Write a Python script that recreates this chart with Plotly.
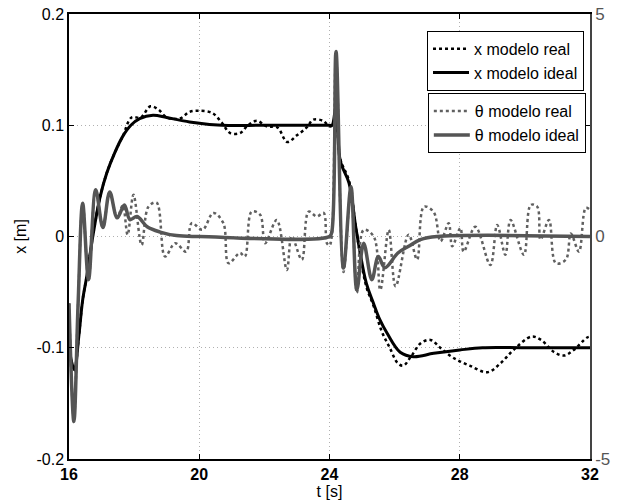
import plotly.graph_objects as go

# x [m] - modelo ideal
t_x_ideal = [16.0, 16.1, 16.17, 16.3, 16.42, 16.55, 16.73, 16.95, 17.16, 17.4, 17.65, 17.9,
             18.17, 18.58, 19.0, 19.7, 20.7, 22.0, 24.0, 24.08, 24.2, 24.33, 24.6, 24.82,
             25.13, 25.35, 25.55, 25.77, 26.17, 26.58, 27.2, 28.0, 28.7, 30.0, 32.0]
x_ideal = [-0.1, -0.115, -0.12, -0.09, -0.057, -0.035, 0.0, 0.035, 0.057, 0.075, 0.09, 0.1,
           0.106, 0.109, 0.107, 0.103, 0.1, 0.1, 0.1, 0.1, 0.117, 0.068, 0.048, 0.006,
           -0.042, -0.06, -0.075, -0.087, -0.104, -0.108, -0.105, -0.102, -0.1, -0.1, -0.1]

# x [m] - modelo real
t_x_real = [16.0, 16.1, 16.17, 16.3, 16.42, 16.55, 16.73, 16.95, 17.16, 17.4, 17.65, 17.92,
            18.2, 18.5, 18.75, 19.0, 19.4, 19.7, 20.0, 20.4, 20.7, 20.95, 21.25, 21.5,
            21.77, 22.07, 22.4, 22.7, 23.0, 23.3, 23.5, 23.8, 24.0, 24.1, 24.2, 24.33,
            24.6, 24.82, 25.13, 25.35, 25.6, 25.85, 26.1, 26.27, 26.5, 26.8, 27.1, 27.4,
            27.8, 28.3, 28.85, 29.25, 29.65, 30.2, 30.5, 30.9, 31.2, 31.5, 31.9, 32.0]
x_real = [-0.1, -0.115, -0.12, -0.09, -0.057, -0.035, 0.0, 0.035, 0.057, 0.075, 0.09, 0.107,
          0.107, 0.117, 0.114, 0.107, 0.106, 0.112, 0.113, 0.111, 0.102, 0.093, 0.093, 0.1,
          0.104, 0.099, 0.098, 0.085, 0.091, 0.098, 0.105, 0.104, 0.099, 0.1, 0.115, 0.07,
          0.05, 0.006, -0.045, -0.062, -0.085, -0.1, -0.114, -0.116, -0.108, -0.096, -0.093, -0.1,
          -0.109, -0.116, -0.122, -0.114, -0.102, -0.09, -0.093, -0.104, -0.107, -0.102, -0.091, -0.09]

# theta - modelo ideal (eje derecho)
t_th_ideal = [16.0, 16.15, 16.28, 16.42, 16.6, 16.82, 17.04, 17.25, 17.48, 17.7, 17.87, 18.09,
              18.4, 18.8, 19.3, 20.0, 24.0, 24.07, 24.2, 24.43, 24.66, 24.84, 25.05, 25.3,
              25.5, 25.7, 26.1, 26.43, 26.79, 27.3, 32.0]
th_ideal = [-1.5, -4.16, -1.5, 0.75, -0.97, 1.05, 0.2, 1.0, 0.42, 0.71, 0.38, 0.45,
            0.22, 0.1, 0.02, 0.0, 0.0, 0.1, 4.16, -0.71, 1.12, -1.2, -0.15, -0.97,
            -0.45, -0.7, -0.37, -0.22, -0.07, 0.0, 0.0]

# theta - modelo real (eje derecho)
t_th_real = [16.0, 16.15, 16.28, 16.42, 16.6, 16.82, 17.04, 17.25, 17.48, 17.65, 17.8, 17.98,
             18.23, 18.44, 18.69, 18.95, 19.26, 19.6, 19.77, 20.1, 20.43, 20.74, 20.9, 21.25,
             21.4, 21.61, 21.87, 22.02, 22.38, 22.69, 22.84, 23.15, 23.36, 23.61, 23.82, 23.92,
             24.0, 24.07, 24.2, 24.43, 24.66, 24.84, 25.05, 25.36, 25.56, 25.82, 26.03, 26.43,
             26.69, 26.9, 27.2, 27.41, 27.66, 27.77, 28.02, 28.12, 28.48, 28.94, 29.15, 29.4,
             29.56, 29.97, 30.18, 30.38, 30.48, 30.74, 30.95, 31.26, 31.41, 31.66, 31.87, 32.0]
th_real = [-1.5, -4.1, -1.5, 0.75, -0.97, 1.05, 0.2, 1.0, 0.42, 0.7, 0.04, 0.94,
           -0.19, 0.67, 0.76, -0.45, -0.15, -0.34, 0.3, 0.15, 0.53, 0.3, -0.6, -0.37,
           -0.45, 0.56, 0.49, -0.15, 0.37, -0.75, 0.0, -0.52, 0.56, 0.45, 0.53, -0.15,
           -0.2, 0.0, 4.1, -0.8, 1.1, -1.27, 0.15, 0.0, -1.2, 0.15, -1.12, 0.04,
           -0.52, 0.67, 0.55, -0.11, 0.3, -0.22, 0.19, -0.34, 0.22, -0.64, 0.26, -0.41,
           0.37, -0.41, 0.71, 0.67, -0.07, 0.37, -0.6, -0.52, 0.07, -0.34, 0.64, 0.6]

x_ticks = [16, 20, 24, 28, 32]
y_ticks = [-0.2, -0.1, 0, 0.1, 0.2]
y2_ticks = [-5, 0, 5]

FONT = "Liberation Sans, Arial, sans-serif"
GRIS = "#555555"
GRID = dict(showgrid=True, gridcolor="#b0b0b0", griddash="1px,3px", gridwidth=1)

fig = go.Figure()

# curvas de theta (eje derecho) primero, debajo de x
fig.add_trace(go.Scatter(
    x=t_th_real, y=th_real, yaxis="y2", mode="lines", line_shape="spline",
    line=dict(color="#606060", width=2.5, dash="dot"),
    name="θ modelo real", legend="legend2"
))
fig.add_trace(go.Scatter(
    x=t_th_ideal, y=th_ideal, yaxis="y2", mode="lines", line_shape="spline",
    line=dict(color=GRIS, width=3.5),
    name="θ modelo ideal", legend="legend2"
))
fig.add_trace(go.Scatter(
    x=t_x_real, y=x_real, mode="lines", line_shape="spline",
    line=dict(color="black", width=2.5, dash="dot"),
    name="x modelo real", legend="legend"
))
fig.add_trace(go.Scatter(
    x=t_x_ideal, y=x_ideal, mode="lines", line_shape="spline",
    line=dict(color="black", width=3),
    name="x modelo ideal", legend="legend"
))

fig.update_layout(
    width=623, height=504,
    margin=dict(l=69, r=33, t=14, b=45),
    plot_bgcolor="white",
    paper_bgcolor="white",
    font=dict(family=FONT, size=16, color="black"),
    xaxis=dict(
        range=[16, 32], tickvals=x_ticks,
        ticktext=["<b>%d</b>" % v for v in x_ticks],
        ticks="inside", ticklen=5, tickcolor="black",
        showline=True, linecolor="black", linewidth=1.5, mirror="ticks",
        zeroline=False, automargin=False,
        title=dict(text="t [s]", standoff=2, font=dict(size=16)),
        **GRID,
    ),
    yaxis=dict(
        range=[-0.2, 0.2], tickvals=y_ticks,
        ticktext=["-0.2", "-0.1", "0", "0.1", "0.2"],
        ticks="inside", ticklen=5, tickcolor="black",
        showline=True, linecolor="black", linewidth=1.5, mirror="ticks",
        zeroline=False, automargin=False,
        title=dict(text="x [m]", standoff=6, font=dict(size=16)),
        **GRID,
    ),
    yaxis2=dict(
        overlaying="y", side="right",
        range=[-5, 5], tickvals=y2_ticks, ticktext=["-5", "0", "5"],
        ticks="inside", ticklen=5, tickcolor=GRIS,
        showline=True, linecolor="#444444", linewidth=1.5,
        tickfont=dict(color=GRIS, size=17),
        showgrid=False, zeroline=False, automargin=False,
    ),
    legend=dict(
        x=0.9885, y=0.962, xanchor="right", yanchor="top",
        bgcolor="white", bordercolor="black", borderwidth=1,
        font=dict(size=16), itemwidth=36, tracegroupgap=0,
    ),
    legend2=dict(
        x=0.992, y=0.822, xanchor="right", yanchor="top",
        bgcolor="white", bordercolor="black", borderwidth=1,
        font=dict(size=16), itemwidth=36, tracegroupgap=0,
    ),
)

# quitar el margen por defecto del body para que la figura ocupe toda la ventana
fig.write_html("out.html", config={"displayModeBar": False},
               post_script="document.body.style.margin='0';")
